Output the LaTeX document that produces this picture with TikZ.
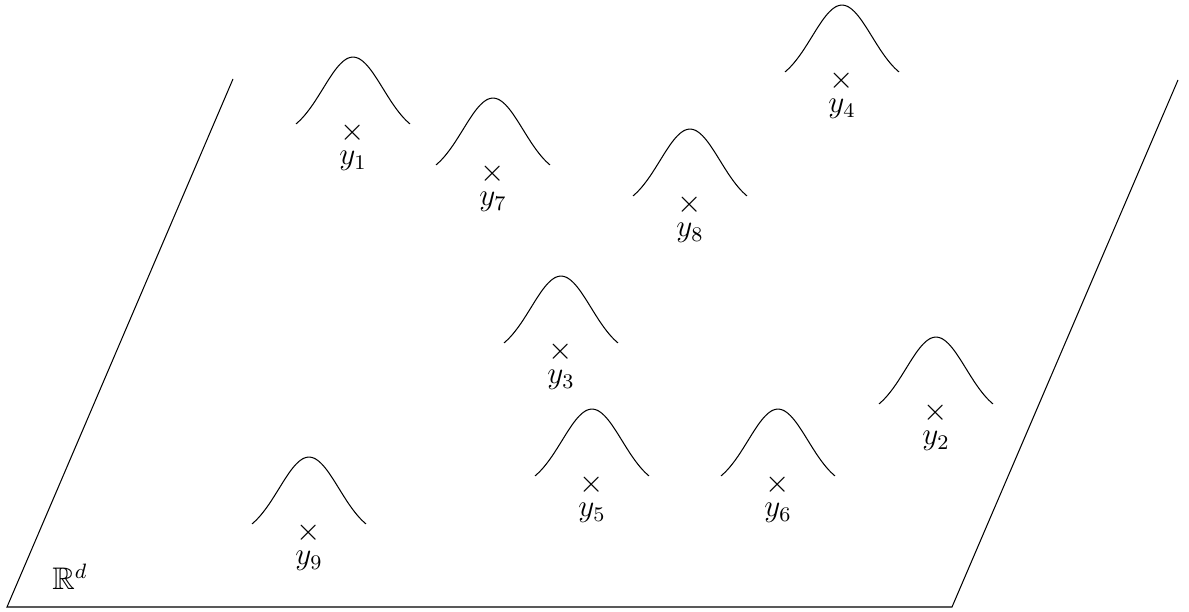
\documentclass[tikz,border=0pt]{standalone}
\usepackage{amssymb}
\usetikzlibrary{positioning}
\begin{document}
\begin{tikzpicture}[x=0.0135cm,y=-0.0135cm,every node/.style={font=\large}]
    \useasboundingbox (0,0) rectangle (1189,612);
    % Plane
    \coordinate (tl) at (233,79);
    \coordinate (bl) at (7,607);
    \coordinate (br) at (952,607);
    \coordinate (tr) at (1178,80);
    \draw (tl) -- (bl) -- (br) -- (tr);
    \node at (70,577) {$\mathbb{R}^d$};
    % Points with bells
    \foreach \n/\px/\py in {1/353/133, 7/493/174, 8/690/205, 4/842/81, 3/561/352,
                            2/936/413, 5/592/485, 6/778/485, 9/309/533} {
        \node (y\n) at (\px,\py) {$\times$};
        \node[below=-4pt of y\n] {$y_{\n}$};
        \draw[shift={(y\n)}] plot[domain=-57:57,samples=60,smooth]
            (\x,{4.1-80*exp(-(\x/30)^2/2)});
    }
\end{tikzpicture}
\end{document}
